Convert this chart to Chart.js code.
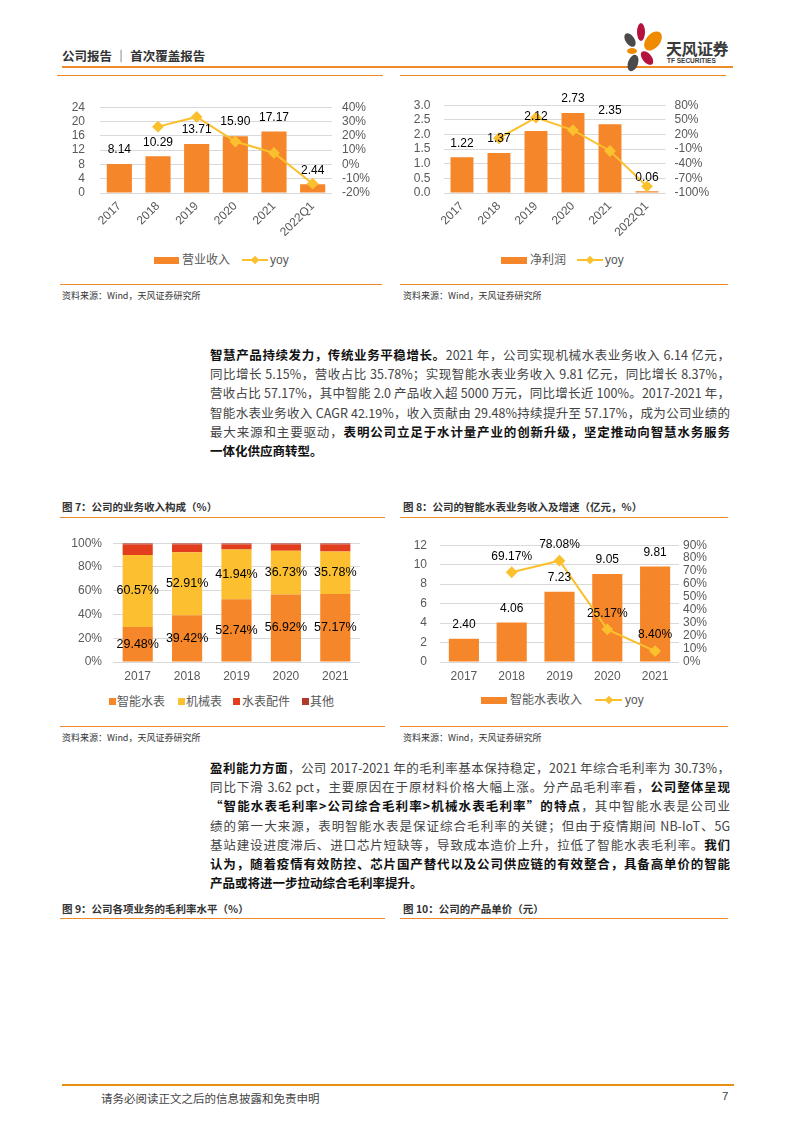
<!DOCTYPE html>
<html>
<head>
<meta charset="utf-8">
<script src="https://cdn.jsdelivr.net/npm/chart.js@4.4.0/dist/chart.umd.min.js"></script>
<style>
body { margin: 0; background: #fff; }
#page { position: relative; width: 793px; height: 1122px; overflow: hidden; font-family: "Noto Sans CJK SC", sans-serif; color: #333; }
.hl { position: absolute; height: 0; border-top: 1.5px solid #EE8A2A; }
.src { position: absolute; font-size: 9px; color: #333; white-space: nowrap; }
.ft { position: absolute; font-size: 10.5px; font-weight: bold; color: #333; white-space: nowrap; }
.para { position: absolute; left: 210px; width: 520px; font-size: 12.5px; color: #444; }
.para div { height: 19.2px; line-height: 19.2px; overflow: hidden; text-align: justify; text-align-last: justify; }
.para div.last { text-align-last: left; }
.para b { color: #111; }
.sw { position: absolute; }
.lg { position: absolute; font-size: 12px; line-height: 16px; color: #595959; font-family: "Liberation Sans", "Noto Sans CJK SC", sans-serif; white-space: nowrap; }
.ln { position: absolute; height: 2px; background: #FBC02D; }
.dm { position: absolute; width: 6px; height: 6px; background: #FBC02D; transform: rotate(45deg); }
canvas { position: absolute; }
</style>
</head>
<body>
<div id="page">
  <!-- 页眉 -->
  <div style="position:absolute;left:62px;top:46px;font-size:12.5px;font-weight:bold;color:#333;">公司报告 ｜ 首次覆盖报告</div>
  <div class="hl" style="left:62px;top:66px;width:671px;border-top-width:2px;"></div>
  <svg style="position:absolute;left:615px;top:18px" width="50" height="60" viewBox="615 18 50 60">
    <ellipse cx="630" cy="40" rx="4.5" ry="7.5" fill="#4a4a4a" transform="rotate(-35 630 40)"/>
    <ellipse cx="641" cy="32" rx="4" ry="9" fill="#B5123E"/>
    <ellipse cx="653" cy="41" rx="7" ry="11" fill="#F08A00" transform="rotate(40 653 41)"/>
    <ellipse cx="632" cy="51" rx="5" ry="3" fill="#F08A00"/>
    <ellipse cx="647" cy="58" rx="4.5" ry="8" fill="#B5123E" transform="rotate(-40 647 58)"/>
    <ellipse cx="633" cy="63" rx="5" ry="8.5" fill="#4a4a4a" transform="rotate(20 633 63)"/>
  </svg>
  <div style="position:absolute;left:666px;top:36px;font-size:16px;font-weight:bold;color:#3a3a3a;letter-spacing:-0.5px;">天风证券</div>
  <div style="position:absolute;left:667px;top:57px;font-size:6.5px;font-weight:bold;color:#3a3a3a;font-family:'Liberation Sans',sans-serif;">TF SECURITIES</div>

  <!-- 图表框上沿 -->
  <div class="hl" style="left:57px;top:75px;width:326px;"></div>
  <div class="hl" style="left:400px;top:75px;width:326px;"></div>

  <canvas id="c1" width="330" height="160" style="left:55px;top:85px"></canvas>
  <canvas id="c2" width="345" height="160" style="left:395px;top:85px"></canvas>

  <div class="sw" style="left:154px;top:257px;width:25px;height:7px;background:#F5862A"></div>
  <div class="lg" style="left:182px;top:252px">营业收入</div>
  <div class="ln" style="left:242px;top:259px;width:26px"></div>
  <div class="dm" style="left:252px;top:257px"></div>
  <div class="lg" style="left:270px;top:252px">yoy</div>

  <div class="sw" style="left:501px;top:257px;width:26px;height:7px;background:#F5862A"></div>
  <div class="lg" style="left:530px;top:252px">净利润</div>
  <div class="ln" style="left:577px;top:259px;width:26px"></div>
  <div class="dm" style="left:587px;top:257px"></div>
  <div class="lg" style="left:605px;top:252px">yoy</div>

  <div class="hl" style="left:60px;top:284px;width:322px;"></div>
  <div class="hl" style="left:400px;top:284px;width:328px;"></div>
  <div class="src" style="left:62px;top:289px">资料来源：Wind，天风证券研究所</div>
  <div class="src" style="left:403px;top:289px">资料来源：Wind，天风证券研究所</div>

  <!-- 正文 1 -->
  <div class="para" style="top:345px">
    <div><b>智慧产品持续发力，传统业务平稳增长。</b>2021 年，公司实现机械水表业务收入 6.14 亿元，</div>
    <div>同比增长 5.15%，营收占比 35.78%；实现智能水表业务收入 9.81 亿元，同比增长 8.37%，</div>
    <div>营收占比 57.17%，其中智能 2.0 产品收入超 5000 万元，同比增长近 100%。2017-2021 年，</div>
    <div>智能水表业务收入 CAGR 42.19%，收入贡献由 29.48%持续提升至 57.17%，成为公司业绩的</div>
    <div>最大来源和主要驱动，<b>表明公司立足于水计量产业的创新升级，坚定推动向智慧水务服务</b></div>
    <div class="last"><b>一体化供应商转型。</b></div>
  </div>

  <!-- 图7 图8 -->
  <div class="ft" style="left:62px;top:499px">图 7：公司的业务收入构成（%）</div>
  <div class="ft" style="left:403px;top:499px">图 8：公司的智能水表业务收入及增速（亿元，%）</div>
  <div class="hl" style="left:60px;top:517px;width:325px;"></div>
  <div class="hl" style="left:400px;top:517px;width:328px;"></div>

  <canvas id="c3" width="330" height="165" style="left:60px;top:525px"></canvas>
  <canvas id="c4" width="340" height="165" style="left:395px;top:525px"></canvas>

  <div class="sw" style="left:109px;top:698px;width:7px;height:7px;background:#F5862A"></div>
  <div class="lg" style="left:117px;top:694px">智能水表</div>
  <div class="sw" style="left:178px;top:698px;width:7px;height:7px;background:#FBBF2F"></div>
  <div class="lg" style="left:186px;top:694px">机械表</div>
  <div class="sw" style="left:233px;top:698px;width:7px;height:7px;background:#E23D1C"></div>
  <div class="lg" style="left:242px;top:694px">水表配件</div>
  <div class="sw" style="left:302px;top:698px;width:7px;height:7px;background:#B33A2B"></div>
  <div class="lg" style="left:310px;top:694px">其他</div>

  <div class="sw" style="left:481px;top:697px;width:26px;height:7px;background:#F5862A"></div>
  <div class="lg" style="left:510px;top:692px">智能水表收入</div>
  <div class="ln" style="left:595px;top:699px;width:27px"></div>
  <div class="dm" style="left:606px;top:697px"></div>
  <div class="lg" style="left:625px;top:692px">yoy</div>

  <div class="hl" style="left:60px;top:726px;width:325px;"></div>
  <div class="hl" style="left:400px;top:726px;width:328px;"></div>
  <div class="src" style="left:62px;top:731px">资料来源：Wind，天风证券研究所</div>
  <div class="src" style="left:403px;top:731px">资料来源：Wind，天风证券研究所</div>

  <!-- 正文 2 -->
  <div class="para" style="top:758px">
    <div><b>盈利能力方面</b>，公司 2017-2021 年的毛利率基本保持稳定，2021 年综合毛利率为 30.73%，</div>
    <div>同比下滑 3.62 pct，主要原因在于原材料价格大幅上涨。分产品毛利率看，<b>公司整体呈现</b></div>
    <div><b>“智能水表毛利率&gt;公司综合毛利率&gt;机械水表毛利率”的特点</b>，其中智能水表是公司业</div>
    <div>绩的第一大来源，表明智能水表是保证综合毛利率的关键；但由于疫情期间 NB-IoT、5G</div>
    <div>基站建设进度滞后、进口芯片短缺等，导致成本造价上升，拉低了智能水表毛利率。<b>我们</b></div>
    <div><b>认为，随着疫情有效防控、芯片国产替代以及公司供应链的有效整合，具备高单价的智能</b></div>
    <div class="last"><b>产品或将进一步拉动综合毛利率提升。</b></div>
  </div>

  <div class="ft" style="left:62px;top:901px">图 9：公司各项业务的毛利率水平（%）</div>
  <div class="ft" style="left:403px;top:901px">图 10：公司的产品单价（元）</div>
  <div class="hl" style="left:60px;top:918px;width:325px;"></div>
  <div class="hl" style="left:400px;top:918px;width:328px;"></div>

  <!-- 页脚 -->
  <div class="hl" style="left:62px;top:1084px;width:672px;border-top-width:2px;border-top-color:#E8900F;"></div>
  <div style="position:absolute;left:101px;top:1090px;font-size:11.5px;color:#444;">请务必阅读正文之后的信息披露和免责申明</div>
  <div style="position:absolute;left:722px;top:1090px;font-size:11.5px;color:#444;font-family:'Liberation Sans',sans-serif;">7</div>
</div>

<script>
// 图表数据
const years6 = ['2017', '2018', '2019', '2020', '2021', '2022Q1'];
const revenue = [8.14, 10.29, 13.71, 15.90, 17.17, 2.44];       // 营业收入（亿元）
const revenueYoy = [null, 26.4, 33.2, 16.0, 8.0, -13.5];        // yoy（%）
const profit = [1.22, 1.37, 2.12, 2.73, 2.35, 0.06];            // 净利润（亿元）
const profitYoy = [null, 12.3, 54.7, 28.8, -13.9, -86.4];       // yoy（%）

const years5 = ['2017', '2018', '2019', '2020', '2021'];
const shareSmart = [29.48, 39.42, 52.74, 56.92, 57.17];         // 智能水表
const shareMech = [60.57, 52.91, 41.94, 36.73, 35.78];          // 机械表
const shareParts = [8.95, 6.67, 4.32, 5.35, 6.00];              // 水表配件
const shareOther = [1.00, 1.00, 1.00, 1.00, 1.05];              // 其他

const smartRev = [2.40, 4.06, 7.23, 9.05, 9.81];                // 智能水表收入（亿元）
const smartYoy = [null, 69.17, 78.08, 25.17, 8.40];             // yoy（%）

const ORANGE = '#F5862A';
const YELLOW = '#FBC02D';
const GRID = '#D9D9D9';
const TICK = '#595959';
const FONT = '"Liberation Sans", Arial, "Noto Sans CJK SC", sans-serif';

Chart.defaults.font.family = FONT;
Chart.defaults.font.size = 12;
Chart.defaults.color = TICK;

// 数值标签
const valueLabels = {
  id: 'valueLabels',
  afterDatasetsDraw(chart) {
    const ctx = chart.ctx;
    chart.data.datasets.forEach(function (ds, i) {
      if (!ds.labelFmt) return;
      const meta = chart.getDatasetMeta(i);
      meta.data.forEach(function (el, j) {
        const v = ds.data[j];
        if (v === null || v === undefined) return;
        const y = ds.labelInside ? (el.y + el.base) / 2 : el.y - (ds.labelGap || 14);
        ctx.save();
        ctx.font = (ds.labelSize || 12) + 'px ' + FONT;
        ctx.fillStyle = '#000';
        ctx.textAlign = 'center';
        ctx.textBaseline = 'middle';
        ctx.fillText(ds.labelFmt(v), el.x, y);
        ctx.restore();
      });
    });
  }
};

function fixW(w) { return function (scale) { scale.width = w; }; }
function fixH(h) { return function (scale) { scale.height = h; }; }

function barLine(id, labels, bars, line, opt) {
  return new Chart(document.getElementById(id), {
    type: 'bar',
    data: {
      labels: labels,
      datasets: [{
        type: 'line',
        data: line,
        yAxisID: 'y1',
        borderColor: YELLOW,
        backgroundColor: YELLOW,
        borderWidth: 2,
        pointStyle: 'rectRot',
        pointRadius: 4.5,
        order: 0,
        labelFmt: opt.lineFmt || null,
        labelGap: 16
      }, {
        data: bars,
        yAxisID: 'y',
        backgroundColor: ORANGE,
        categoryPercentage: 1,
        barPercentage: opt.barPct,
        order: 1,
        labelFmt: opt.barFmt,
        labelGap: 14
      }]
    },
    options: {
      responsive: false,
      animation: false,
      layout: { padding: { top: opt.top, left: 0, right: 0, bottom: 0 } },
      plugins: { legend: { display: false }, tooltip: { enabled: false } },
      scales: {
        x: {
          grid: { display: false, drawTicks: false },
          border: { display: false },
          ticks: { autoSkip: false, minRotation: opt.rot, maxRotation: opt.rot, padding: opt.xPad },
          afterFit: fixH(opt.xH)
        },
        y: {
          position: 'left',
          min: opt.yMin, max: opt.yMax,
          ticks: { autoSkip: false, stepSize: opt.yStep, padding: opt.yPad, callback: opt.yFmt },
          grid: { color: GRID, drawTicks: false },
          border: { display: false },
          afterFit: fixW(opt.yW)
        },
        y1: {
          position: 'right',
          min: opt.rMin, max: opt.rMax,
          ticks: { autoSkip: false, stepSize: opt.rStep, padding: opt.rPad, callback: function (v) { return v + '%'; } },
          grid: { display: false, drawTicks: false },
          border: { display: false },
          afterFit: fixW(opt.rW)
        }
      }
    },
    plugins: [valueLabels]
  });
}

// 营业收入
barLine('c1', years6, revenue, revenueYoy, {
  barPct: 0.65, top: 15, rot: 45, xPad: 6, xH: 52,
  yMin: 0, yMax: 24, yStep: 4, yPad: 15, yW: 45, yFmt: function (v) { return v; },
  rMin: -20, rMax: 40, rStep: 10, rPad: 10, rW: 53,
  barFmt: function (v) { return v.toFixed(2); }
});

// 净利润
barLine('c2', years6, profit, profitYoy, {
  barPct: 0.62, top: 11, rot: 45, xPad: 6, xH: 52,
  yMin: 0, yMax: 3, yStep: 0.5, yPad: 13, yW: 48.5, yFmt: function (v) { return v.toFixed(1); },
  rMin: -100, rMax: 80, rStep: 30, rPad: 9, rW: 74.5,
  barFmt: function (v) { return v.toFixed(2); }
});

// 智能水表收入
barLine('c4', years5, smartRev, smartYoy, {
  barPct: 0.63, top: 13, rot: 0, xPad: 7, xH: 28,
  yMin: 0, yMax: 12, yStep: 2, yPad: 13, yW: 45, yFmt: function (v) { return v; },
  rMin: 0, rMax: 90, rStep: 10, rPad: 4, rW: 56,
  barFmt: function (v) { return v.toFixed(2); },
  lineFmt: function (v) { return v.toFixed(2) + '%'; }
});

// 业务收入构成
function stackSet(data, color, withLabel) {
  return {
    data: data,
    backgroundColor: color,
    categoryPercentage: 1,
    barPercentage: 0.61,
    labelFmt: withLabel ? function (v) { return v.toFixed(2) + '%'; } : null,
    labelInside: true,
    labelSize: 12.5
  };
}
new Chart(document.getElementById('c3'), {
  type: 'bar',
  data: {
    labels: years5,
    datasets: [
      stackSet(shareSmart, ORANGE, true),
      stackSet(shareMech, '#FBBF2F', true),
      stackSet(shareParts, '#E23D1C', false),
      stackSet(shareOther, '#B33A2B', false)
    ]
  },
  options: {
    responsive: false,
    animation: false,
    layout: { padding: { top: 13, left: 0, right: 30, bottom: 0 } },
    plugins: { legend: { display: false }, tooltip: { enabled: false } },
    scales: {
      x: {
        stacked: true,
        grid: { display: false, drawTicks: false },
        border: { display: false },
        ticks: { autoSkip: false, padding: 7 },
        afterFit: fixH(28)
      },
      y: {
        stacked: true,
        min: 0, max: 100,
        ticks: { autoSkip: false, stepSize: 20, padding: 11, callback: function (v) { return v + '%'; } },
        grid: { color: GRID, drawTicks: false },
        border: { display: false },
        afterFit: fixW(53)
      }
    }
  },
  plugins: [valueLabels]
});
</script>
</body>
</html>
